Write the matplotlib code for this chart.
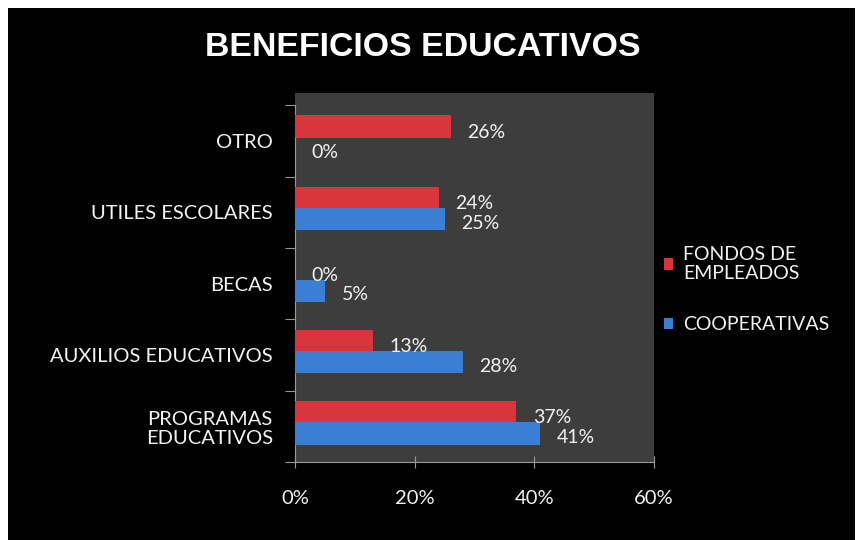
import matplotlib
matplotlib.use('Agg')
import matplotlib.pyplot as plt
from matplotlib.patches import Rectangle
import numpy as np

categories = ['PROGRAMAS\nEDUCATIVOS', 'AUXILIOS EDUCATIVOS', 'BECAS', 'UTILES ESCOLARES', 'OTRO']
fondos = [37, 13, 0, 24, 26]
cooperativas = [41, 28, 5, 25, 0]
series_names = ['FONDOS DE\nEMPLEADOS', 'COOPERATIVAS']
xticks = [0, 20, 40, 60]

red = '#d8363c'
blue = '#3a7fd4'
txt = '#f2f2f2'
font = 'Lato'

fig = plt.figure(figsize=(8.63, 5.4), dpi=100, facecolor='white')
# black slide background with thin white border
fig.patches.append(Rectangle((8 / 863, 0), 847 / 863, 532 / 540, transform=fig.transFigure,
                             facecolor='black', edgecolor='none', zorder=-10))

ax = fig.add_axes([295 / 863, 78 / 540, 359 / 863, 369 / 540])
ax.set_facecolor('#3d3d3d')
y = np.arange(len(categories))
h = 0.31
ax.barh(y + 0.2, fondos, height=h, color=red, label=series_names[0], zorder=3)
ax.barh(y - 0.1, cooperativas, height=h, color=blue, label=series_names[1], zorder=3)

for yi, v in zip(y, fondos):
    ax.text(v + 2.8, yi + 0.12, f'{v}%', color=txt, fontsize=14, family=font,
            va='center', ha='left', zorder=4)
for yi, v in zip(y, cooperativas):
    ax.text(v + 2.8, yi - 0.16, f'{v}%', color=txt, fontsize=14, family=font,
            va='center', ha='left', zorder=4)

ax.set_xlim(0, 60)
ax.set_ylim(-0.5, 4.67)
ax.set_xticks(xticks)
ax.set_xticklabels([f'{t}%' for t in xticks], color=txt, fontsize=14.5, family=font)
ax.tick_params(axis='x', direction='inout', length=8, color='#999999', pad=16)

ax.set_yticks(np.arange(-0.5, 5, 1))
ax.set_yticklabels([])
ax.tick_params(axis='y', which='major', direction='out', length=7, color='#999999')
ax.set_yticks(y, minor=True)
ax.set_yticklabels(categories, minor=True, color=txt, fontsize=14.5, family=font,
                   linespacing=1.15)
ax.tick_params(axis='y', which='minor', length=0, pad=16)

for s in ['top', 'right']:
    ax.spines[s].set_visible(False)
ax.spines['left'].set_color('#999999')
ax.spines['bottom'].set_color('#999999')
ax.spines['left'].set_bounds(-0.5, 4.5)

fig.text(423 / 863, 1 - 48 / 540, 'BENEFICIOS EDUCATIVOS', color='white', fontsize=24.4,
         fontweight='bold', family='Liberation Sans', ha='center', va='center')

leg = ax.legend(loc='upper left', bbox_to_anchor=(646 / 863, 1 - 228 / 540),
                bbox_transform=fig.transFigure, frameon=False,
                prop={'family': font, 'size': 14}, labelcolor=txt,
                handlelength=0.5, handleheight=0.5, handletextpad=0.5, labelspacing=1.75)

fig.savefig('out.png', dpi=100, facecolor='white')
